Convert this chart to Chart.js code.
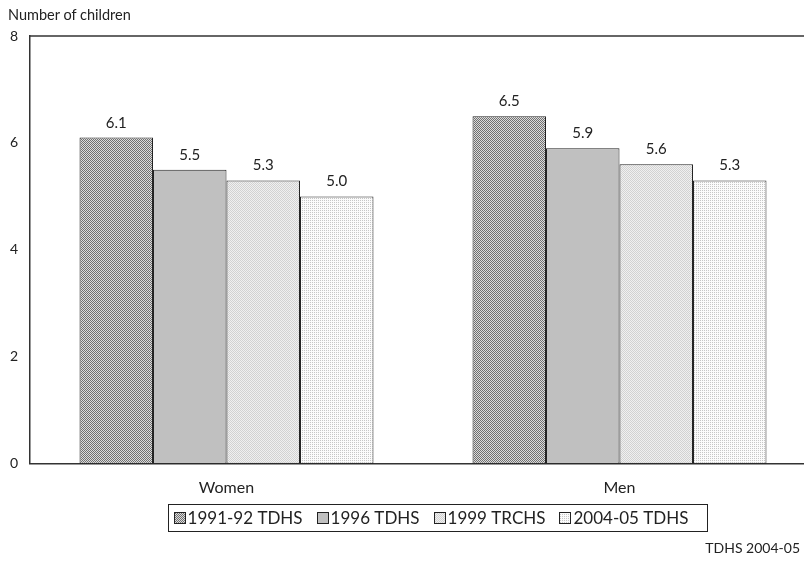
<!DOCTYPE html>
<html>
<head>
<meta charset="utf-8">
<script src="https://cdn.jsdelivr.net/npm/chart.js@4/dist/chart.umd.min.js"></script>
<style>
  html, body { margin: 0; padding: 0; background: #fff; overflow: hidden; }
  #wrap { position: relative; width: 804px; height: 562px; overflow: hidden; }
  canvas { position: absolute; left: 0; top: 0; }
  .t { position: absolute; font-family: Lato, "Open Sans", sans-serif; color: #222; white-space: nowrap; }
  #ytitle { left: 8px; top: 6px; font-size: 14.5px; }
  #source { right: 4px; top: 539px; font-size: 14px; }
</style>
</head>
<body>
<div id="wrap">
  <canvas id="c" width="816" height="562"></canvas>
  <div class="t" id="ytitle">Number of children</div>
  <div class="t" id="source">TDHS 2004-05</div>
</div>
<script>
// ---- data ----
const categories = ["Women", "Men"];
const seriesLabels = ["1991-92 TDHS", "1996 TDHS", "1999 TRCHS", "2004-05 TDHS"];
const s1991 = [6.1, 6.5];
const s1996 = [5.5, 5.9];
const s1999 = [5.3, 5.6];
const s2004 = [5.0, 5.3];
const yTicks = [0, 2, 4, 6, 8];

// ---- patterns ----
function makePattern(size, bg, fg, cells) {
  const pc = document.createElement('canvas');
  pc.width = size; pc.height = size;
  const g = pc.getContext('2d');
  g.fillStyle = bg; g.fillRect(0, 0, size, size);
  g.fillStyle = fg;
  cells.forEach(([x, y]) => g.fillRect(x, y, 1, 1));
  return g.createPattern(pc, 'repeat');
}
const pat1 = makePattern(2, '#dcdcdc', '#707070', [[0,0],[1,1]]);
const pat2 = '#c0c0c0';
const pat3 = makePattern(2, '#f0f0f0', '#d2d2d2', [[0,0],[1,1]]);
const pat4 = makePattern(2, '#fbfbfb', '#c6c6c6', [[0,0]]);
const fills = [pat1, pat2, pat3, pat4];
const seriesData = [s1991, s1996, s1999, s2004];

const FONT = 'Lato, "Open Sans", sans-serif';

const valueLabels = {
  id: 'valueLabels',
  afterDatasetsDraw(chart) {
    const ctx = chart.ctx;
    ctx.save();
    ctx.font = '15px ' + FONT;
    ctx.fillStyle = '#222';
    ctx.textAlign = 'center';
    ctx.textBaseline = 'alphabetic';
    chart.data.datasets.forEach((ds, i) => {
      chart.getDatasetMeta(i).data.forEach((bar, j) => {
        ctx.fillText(ds.data[j].toFixed(1), bar.x, bar.y - 10);
      });
    });
    ctx.restore();
  }
};

const frame = {
  id: 'frame',
  afterDraw(chart) {
    const ctx = chart.ctx, a = chart.chartArea;
    ctx.save();
    ctx.strokeStyle = '#333';
    ctx.lineWidth = 1.5;
    ctx.beginPath();
    ctx.moveTo(a.left, a.top);
    ctx.lineTo(a.right, a.top);
    ctx.stroke();
    ctx.restore();
  }
};

const boxLegend = {
  id: 'boxLegend',
  afterDraw(chart) {
    const ctx = chart.ctx;
    ctx.save();
    ctx.font = '17px ' + FONT;
    const box = 11, gapBT = 3, gapItem = 14, padL = 6, padR = 18;
    const items = chart.data.datasets.map(ds => ({ label: ds.label, fill: ds.backgroundColor, w: ctx.measureText(ds.label).width }));
    let total = padL + padR;
    items.forEach((it, i) => { total += box + gapBT + it.w + (i < items.length - 1 ? gapItem : 0); });
    const cx = 437, top = 504, h = 27;
    let x = cx - total / 2;
    ctx.strokeStyle = '#222';
    ctx.lineWidth = 1;
    ctx.strokeRect(Math.round(x) + 0.5, top + 0.5, Math.round(total), h);
    x += padL;
    const cy = top + h / 2;
    ctx.textBaseline = 'middle';
    items.forEach(it => {
      ctx.fillStyle = it.fill;
      ctx.fillRect(Math.round(x), Math.round(cy - box / 2), box, box);
      ctx.strokeStyle = '#222';
      ctx.strokeRect(Math.round(x) + 0.5, Math.round(cy - box / 2) + 0.5, box, box);
      x += box + gapBT;
      ctx.fillStyle = '#222';
      ctx.fillText(it.label, x, cy + 1);
      x += it.w + gapItem;
    });
    ctx.restore();
  }
};

new Chart(document.getElementById('c'), {
  type: 'bar',
  data: {
    labels: categories,
    datasets: seriesLabels.map((lab, i) => ({
      label: lab,
      data: seriesData[i],
      backgroundColor: fills[i],
      borderColor: '#222',
      borderWidth: 1,
      borderSkipped: false,
      barPercentage: 1.0,
      categoryPercentage: 0.748
    }))
  },
  options: {
    responsive: false,
    devicePixelRatio: 1,
    animation: false,
    layout: { padding: { top: 36, right: 0, bottom: 59, left: 0 } },
    plugins: {
      legend: { display: false },
      tooltip: { enabled: false },
      title: { display: false }
    },
    scales: {
      x: {
        grid: { display: false },
        border: { display: true, color: '#333', width: 1.5 },
        ticks: { color: '#222', font: { family: FONT, size: 16 }, padding: 6 }
      },
      y: {
        min: 0, max: 8,
        afterBuildTicks(scale) { scale.ticks = yTicks.map(v => ({ value: v })); },
        afterFit(scale) { scale.width = 30; },
        grid: { display: false },
        border: { display: true, color: '#333', width: 1.5 },
        ticks: { color: '#222', font: { family: FONT, size: 14 }, padding: 4 }
      }
    }
  },
  plugins: [valueLabels, frame, boxLegend]
});
</script>
</body>
</html>
